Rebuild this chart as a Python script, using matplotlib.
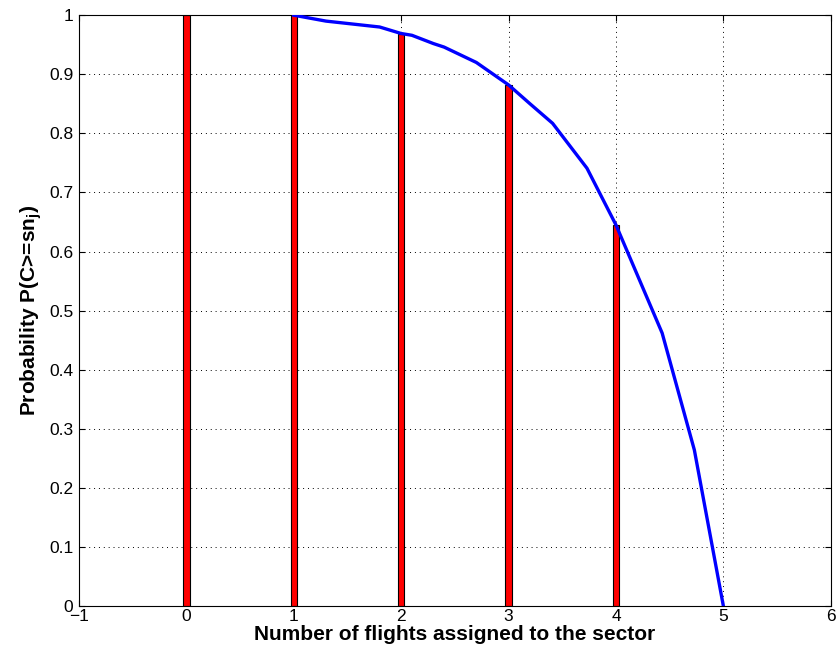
import numpy as np
import matplotlib.pyplot as plt

plt.rcParams['font.family'] = ['Liberation Sans', 'DejaVu Sans']
plt.rcParams['mathtext.fontset'] = 'custom'
plt.rcParams['mathtext.bf'] = 'Liberation Sans:bold'
plt.rcParams['mathtext.rm'] = 'Liberation Sans'
plt.rcParams['mathtext.default'] = 'bf'

# bars: probability for each number of flights
flights = [0, 1, 2, 3, 4]
probs = [1.0, 1.0, 0.969, 0.882, 0.645]

# continuous curve
curve_x = [1.0, 1.3, 1.8, 2.0, 2.1, 2.3, 2.4, 2.7, 3.0, 3.2, 3.41, 3.73, 4.0, 4.43, 4.73, 5.0]
curve_y = [1.0, 0.99, 0.98, 0.969, 0.966, 0.952, 0.946, 0.92, 0.882, 0.85, 0.817, 0.741, 0.645, 0.462, 0.264, 0.0]

fig = plt.figure(figsize=(8.4, 6.55), dpi=100)
ax = fig.add_axes([0.094, 0.0748, 0.895, 0.902])

ax.bar(flights, probs, width=0.06, color='red', edgecolor='black', linewidth=0.8, zorder=2)
ax.plot(curve_x, curve_y, color='blue', linewidth=2.4, zorder=3)

ax.set_xlim(-1, 6)
ax.set_ylim(0, 1)
ax.set_xticks(np.arange(-1, 7, 1))
ax.set_yticks(np.arange(0, 1.01, 0.1))
ax.set_xticklabels(['\u22121', '0', '1', '2', '3', '4', '5', '6'])
ax.set_yticklabels(['0', '0.1', '0.2', '0.3', '0.4', '0.5', '0.6', '0.7', '0.8', '0.9', '1'])
ax.tick_params(direction='in', top=True, right=True, labelsize=12.5, length=4.5, pad=4)
ax.tick_params(axis='x', pad=2)
ax.grid(True, linestyle=(0, (1, 4)), color='black', linewidth=0.7)
ax.set_axisbelow(True)

ax.set_xlabel('Number of flights assigned to the sector', fontsize=15, fontweight='bold', labelpad=1)
ax.set_ylabel('Probability P(C>=sn$_{j}$)', fontsize=15, fontweight='bold', labelpad=4)

fig.savefig('out.png', dpi=100)
